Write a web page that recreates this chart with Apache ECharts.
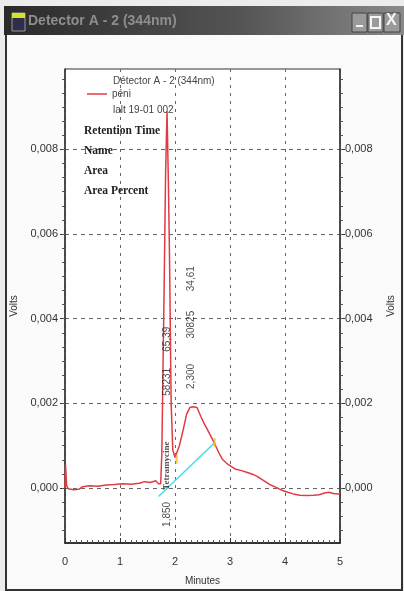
<!DOCTYPE html>
<html>
<head>
<meta charset="utf-8">
<script src="https://cdn.jsdelivr.net/npm/echarts@6.0.0/dist/echarts.min.js"></script>
<style>
  html, body { margin: 0; padding: 0; background: #ececec; }
  #chart { width: 404px; height: 591px; }
</style>
</head>
<body>
<div id="chart"></div>
<script>
// chromatogram trace (minutes / volts)
const traceTime = [0.00, 0.01, 0.03, 0.06, 0.15, 0.25, 0.32, 0.45, 0.60, 0.75, 0.90, 1.05, 1.20, 1.35, 1.45, 1.55, 1.65, 1.70, 1.74,
  1.76, 1.80, 1.83, 1.855, 1.88, 1.90, 1.93, 1.96, 2.00, 2.03, 2.08, 2.15, 2.21, 2.27, 2.33, 2.40, 2.47, 2.53, 2.59, 2.66,
  2.72, 2.79, 2.86, 2.97, 3.09, 3.21, 3.33, 3.42, 3.50, 3.62, 3.74, 3.83, 3.92, 4.05, 4.15, 4.27, 4.39, 4.52, 4.62, 4.72,
  4.80, 4.88, 5.00]
const traceVolt = [0.00000, 0.00055, 0.00005, -0.00002, -0.00004, -0.00003, 0.00003, 0.00005, 0.00004, 0.00007, 0.00008, 0.00010,
  0.00009, 0.00011, 0.00015, 0.00013, 0.00017, 0.00010, 0.00010,
  0.00080, 0.00450, 0.00750, 0.00890, 0.00720, 0.00550, 0.00200, 0.00090, 0.00072, 0.00068, 0.00100, 0.00138, 0.00174,
  0.00190, 0.00192, 0.00190, 0.00169, 0.00152, 0.00138, 0.00120, 0.00105, 0.00085, 0.00068, 0.00055, 0.00045, 0.00041,
  0.00036, 0.00032, 0.00027, 0.00017, 0.00007, 0.00002, -0.00004, -0.00010, -0.00014, -0.00017, -0.00018, -0.00017,
  -0.00016, -0.00012, -0.00010, -0.00013, -0.00015]
// integration baseline under the second peak
const baseTime = [1.70, 2.72]
const baseVolt = [-0.00020, 0.00107]
// peak start / end markers
const markTime = [2.03, 2.72]
const markVolt = [0.00068, 0.00107]
// peak annotations
const annTime = [1.85, 1.85, 1.85, 1.85, 2.30, 2.30, 2.30]
const annVolt = [-0.00092, -0.00004, 0.00218, 0.00322, 0.00234, 0.00353, 0.00465]
const annText = ['1,850', 'Tetramycine', '58231', '65,39', '2,300', '30825', '34,61']
// axis ticks
const xTicks = [0, 1, 2, 3, 4, 5]
const yTicks = [0, 0.002, 0.004, 0.006, 0.008]
const yMin = -0.0013
const yMax = 0.0099

const yMinor = []
for (let k = -3; k <= 29; k++) {
  yMinor.push(+(k * 0.002 / 6).toFixed(6))
}

const narrow = 'Liberation Sans Narrow, Liberation Sans, Arial, sans-serif'
const fmt = v => v.toFixed(3).replace('.', ',')

function yAxisMain (pos) {
  return {
    type: 'value',
    position: pos,
    min: yMin,
    max: yMax,
    name: 'Volts',
    nameLocation: 'middle',
    nameGap: pos === 'left' ? 41 : 46,
    nameRotate: 90,
    nameTextStyle: {fontFamily: narrow, fontSize: 10, color: '#333'},
    axisLine: {show: true, lineStyle: {color: '#333', width: 1.5}},
    axisTick: {show: true, customValues: yTicks, length: 5, lineStyle: {color: '#333'}},
    axisLabel: {customValues: yTicks, formatter: fmt, margin: pos === 'left' ? 7 : 5, fontFamily: narrow, fontSize: 11, color: '#333'},
    splitLine: {show: pos === 'left', lineStyle: {color: '#666', type: [4, 4], width: 1}},
    minorTick: {show: false}
  }
}

function yAxisMinor (pos) {
  return {
    type: 'value',
    position: pos,
    min: yMin,
    max: yMax,
    axisLine: {show: false},
    axisTick: {show: true, customValues: yMinor, length: 3, lineStyle: {color: '#555'}},
    axisLabel: {show: false},
    splitLine: {show: false}
  }
}

const chart = echarts.init(document.getElementById('chart'))
chart.setOption({
  animation: false,
  backgroundColor: '#ececec',
  title: [
    {text: 'Détector A - 2 (344nm)', left: 113, top: 76, padding: 0, textStyle: {fontFamily: narrow, fontSize: 10, fontWeight: 'normal', color: '#444'}},
    {text: 'lalt 19-01 002', left: 113, top: 105, padding: 0, textStyle: {fontFamily: narrow, fontSize: 10, fontWeight: 'normal', color: '#444'}},
    {text: 'Retention Time\nName\nArea\nArea Percent', left: 84, top: 121, padding: 0,
      textStyle: {fontFamily: 'Liberation Serif, serif', fontSize: 11.5, fontWeight: 'bold', color: '#222', lineHeight: 20}}
  ],
  legend: {
    data: [{name: 'péni', icon: 'rect'}],
    left: 87,
    top: 89,
    padding: 0,
    itemWidth: 20,
    itemHeight: 1.5,
    textStyle: {fontFamily: narrow, fontSize: 10, color: '#444'}
  },
  grid: {left: 65, right: 56, top: 69, bottom: 47, show: true, backgroundColor: '#fff', borderColor: '#333', borderWidth: 1},
  xAxis: {
    type: 'value',
    min: 0,
    max: 5,
    interval: 1,
    name: 'Minutes',
    nameLocation: 'middle',
    nameGap: 33,
    nameTextStyle: {fontFamily: narrow, fontSize: 10, color: '#333'},
    axisLine: {show: true, onZero: false, lineStyle: {color: '#333', width: 2}},
    axisTick: {show: true, inside: true, length: 5, lineStyle: {color: '#333'}},
    minorTick: {show: true, splitNumber: 10, length: 3, lineStyle: {color: '#555'}},
    axisLabel: {margin: 13, fontFamily: narrow, fontSize: 11, color: '#333', customValues: xTicks},
    splitLine: {show: true, lineStyle: {color: '#666', type: [3, 5], width: 1}}
  },
  yAxis: [yAxisMain('left'), yAxisMain('right'), yAxisMinor('left'), yAxisMinor('right')],
  series: [
    {
      name: 'péni',
      type: 'line',
      symbol: 'none',
      data: traceTime.map((t, i) => [t, traceVolt[i]]),
      lineStyle: {color: '#e23a44', width: 1.5},
      itemStyle: {color: '#e23a44'},
      z: 3
    },
    {
      name: 'baseline',
      type: 'line',
      symbol: 'none',
      data: baseTime.map((t, i) => [t, baseVolt[i]]),
      lineStyle: {color: '#44dde6', width: 1.5},
      z: 4
    },
    {
      name: 'marks',
      type: 'scatter',
      symbol: 'rect',
      symbolSize: [2, 9],
      data: markTime.map((t, i) => [t, markVolt[i]]),
      itemStyle: {color: '#f2b824'},
      z: 5
    },
    {
      name: 'labels',
      type: 'scatter',
      symbolSize: 1,
      silent: true,
      itemStyle: {color: 'rgba(0,0,0,0)'},
      data: annTime.map((t, i) => ({
        value: [t, annVolt[i]],
        label: annText[i] === 'Tetramycine'
          ? {fontFamily: 'Liberation Serif, serif', fontWeight: 'bold', fontSize: 9}
          : {}
      })),
      label: {
        show: true,
        position: 'inside',
        rotate: 90,
        align: 'left',
        verticalAlign: 'middle',
        formatter: p => annText[p.dataIndex],
        fontFamily: narrow,
        fontSize: 10,
        color: '#222'
      },
      z: 6
    }
  ],
  graphic: [
    // window frame
    {type: 'rect', shape: {x: 6, y: 33, width: 396, height: 557}, style: {fill: '#fafafa', stroke: '#333', lineWidth: 2}, z: -10},
    // title bar
    {type: 'rect', shape: {x: 4, y: 6, width: 400, height: 29},
      style: {fill: new echarts.graphic.LinearGradient(0, 0, 1, 0, [{offset: 0, color: '#2a2a2a'}, {offset: 0.6, color: '#555'}, {offset: 1, color: '#8a8a8a'}])}, z: -9},
    {type: 'rect', shape: {x: 12, y: 13, width: 13, height: 18}, style: {fill: '#2e2e4a', stroke: '#999', lineWidth: 1}, z: -8},
    {type: 'rect', shape: {x: 12, y: 13, width: 13, height: 5}, style: {fill: '#d6e22a'}, z: -7},
    {type: 'text', left: 28, top: 14, style: {text: 'Detector A - 2 (344nm)', fontFamily: narrow, fontSize: 14, fontWeight: 'bold', fill: '#8e8e8e'}, z: -7},
    {type: 'rect', shape: {x: 352, y: 13, width: 15, height: 19}, style: {fill: '#9a9a9a', stroke: '#444', lineWidth: 1}, z: -8},
    {type: 'rect', shape: {x: 368, y: 13, width: 15, height: 19}, style: {fill: '#9a9a9a', stroke: '#444', lineWidth: 1}, z: -8},
    {type: 'rect', shape: {x: 384, y: 13, width: 16, height: 19}, style: {fill: '#9a9a9a', stroke: '#444', lineWidth: 1}, z: -8},
    {type: 'rect', shape: {x: 356, y: 25, width: 7, height: 2}, style: {fill: '#f4f4f4'}, z: -7},
    {type: 'rect', shape: {x: 371, y: 17, width: 9, height: 11}, style: {fill: 'none', stroke: '#f4f4f4', lineWidth: 2}, z: -7},
    {type: 'text', left: 386, top: 13, style: {text: 'X', fontFamily: 'Liberation Sans, sans-serif', fontSize: 16, fontWeight: 'bold', fill: '#f4f4f4'}, z: -7}
  ]
})
</script>
</body>
</html>
